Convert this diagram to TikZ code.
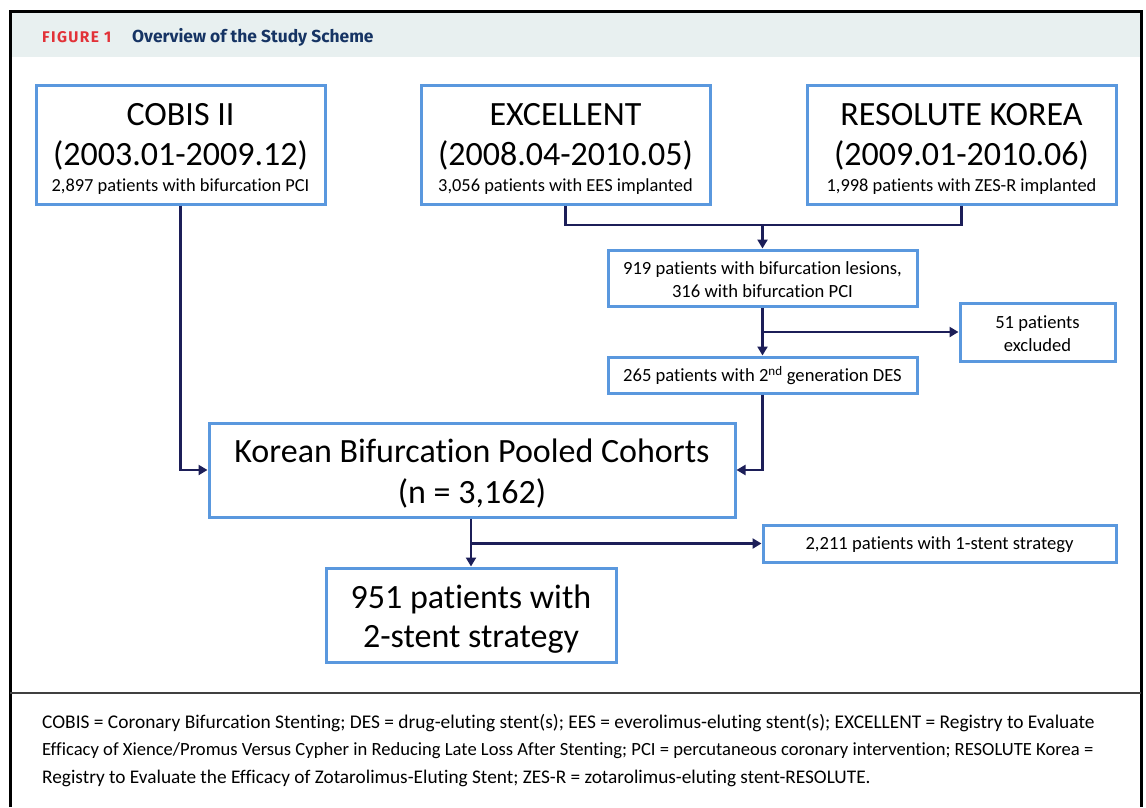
\documentclass[tikz,border=0pt]{standalone}
\usepackage{fontspec}
\setmainfont{Carlito}[Ligatures=NoCommon]
\newfontfamily\headfont{Fira Sans}
\newfontfamily\headfontsp{Fira Sans}[LetterSpace=9]
\usetikzlibrary{arrows.meta}
\definecolor{boxblue}{RGB}{90,152,222}
\definecolor{arrnavy}{RGB}{28,30,88}
\definecolor{headbg}{RGB}{232,240,240}
\definecolor{figred}{RGB}{226,50,56}
\definecolor{titlenavy}{RGB}{22,52,100}
\begin{document}
\begin{tikzpicture}[x=1pt,y=-1pt,
  box/.style={draw=boxblue, line width=3pt, inner sep=0pt, fill=white},
  bigtxt/.style={anchor=base, inner sep=0pt, font=\fontsize{34}{40}\selectfont},
  midtxt/.style={anchor=base, inner sep=0pt, font=\fontsize{18.6}{22}\selectfont},
  smalltxt/.style={anchor=base, inner sep=0pt, font=\fontsize{18.4}{22}\selectfont},
  captxt/.style={anchor=base west, inner sep=0pt},
  conn/.style={draw=arrnavy, line width=2.6pt},
  arr/.style={conn, -{Triangle[length=9pt,width=10pt]}}
]
\useasboundingbox (0,0) rectangle (1146,807);
\fill[white] (0,0) rectangle (1146,807);
\fill[headbg] (10,11) rectangle (1141,57);
\draw[line width=3pt] (10,807) -- (10,11) -- (1141,11) -- (1141,807);
\draw[line width=2pt, black!75] (10,693) -- (1141,693);

% header
\node[anchor=base west, inner sep=0pt, text=figred, font=\headfontsp\bfseries\fontsize{15.5}{18}\selectfont] (figlab) at (42,42.5) {FIGURE 1};
\node[anchor=base west, inner sep=0pt, text=titlenavy, font=\headfont\bfseries\fontsize{17.4}{20}\selectfont] (title) at (132,42.5) {Overview of the Study Scheme};

% boxes
\node[box, minimum width=289pt, minimum height=119pt] (cobis) at (180.5,144.5) {};
\node[box, minimum width=289pt, minimum height=119pt] (excellent) at (565.5,144.5) {};
\node[box, minimum width=309pt, minimum height=119pt] (resolute) at (961.5,144.5) {};
\node[box, minimum width=309pt, minimum height=56pt] (n919) at (762.5,278) {};
\node[box, minimum width=155pt, minimum height=58pt] (n51) at (1037.5,332) {};
\node[box, minimum width=309pt, minimum height=36pt] (n265) at (762.5,375) {};
\node[box, minimum width=526pt, minimum height=94pt] (korean) at (472,470) {};
\node[box, minimum width=353pt, minimum height=37pt] (n2211) at (939.5,543.5) {};
\node[box, minimum width=290pt, minimum height=94pt] (n951) at (471,615) {};

% box texts
\node[bigtxt] (cobisA) at (180.5,125) {COBIS II};
\node[bigtxt] (cobisB) at (180.5,165) {(2003.01-2009.12)};
\node[smalltxt] (cobisC) at (180.5,191.5) {2,897 patients with bifurcation PCI};
\node[bigtxt] (excA) at (565.5,125) {EXCELLENT};
\node[bigtxt] (excB) at (565.5,165) {(2008.04-2010.05)};
\node[smalltxt] (excC) at (565.5,191.5) {3,056 patients with EES implanted};
\node[bigtxt] (resA) at (961.5,125) {RESOLUTE KOREA};
\node[bigtxt] (resB) at (961.5,165) {(2009.01-2010.06)};
\node[smalltxt] (resC) at (961.5,191.5) {1,998 patients with ZES-R implanted};
\node[midtxt] (t919a) at (762.5,274) {919 patients with bifurcation lesions,};
\node[midtxt] (t919b) at (762.5,297) {316 with bifurcation PCI};
\node[midtxt] (t51a) at (1037.5,328.5) {51 patients};
\node[midtxt] (t51b) at (1037.5,351) {excluded};
\node[midtxt] (t265) at (762.5,381.5) {265 patients with 2\textsuperscript{nd} generation DES};
\node[bigtxt] (korA) at (472,462) {Korean Bifurcation Pooled Cohorts};
\node[bigtxt] (korB) at (472,503) {(n = 3,162)};
\node[midtxt] (t2211) at (939.5,549.5) {2,211 patients with 1-stent strategy};
\node[bigtxt] (t951a) at (471,608) {951 patients with};
\node[bigtxt] (t951b) at (471,647) {2-stent strategy};

% connectors
\coordinate (j1) at (762.5,225);
\draw[conn] (excellent.south) -- (excellent.south |- j1) -- (resolute.south |- j1) -- (resolute.south);
\draw[arr] (j1) -- (n919.north);
\draw[arr] (n919.south) -- (n265.north);
\draw[arr] (n919.south |- n51.west) -- (n51.west);
\draw[arr] (cobis.south) |- (korean.west);
\draw[arr] (n265.south) |- (korean.east);
\draw[arr] (n951.north |- korean.south) -- (n951.north);
\draw[arr] (n951.north |- n2211.west) -- (n2211.west);

% caption
\node[captxt, font=\fontsize{19.4}{22}\selectfont] (cap1) at (42,728) {COBIS = Coronary Bifurcation Stenting; DES = drug-eluting stent(s); EES = everolimus-eluting stent(s); EXCELLENT = Registry to Evaluate};
\node[captxt, font=\fontsize{18.6}{22}\selectfont] (cap2) at (42,755) {Efficacy of Xience/Promus Versus Cypher in Reducing Late Loss After Stenting; PCI = percutaneous coronary intervention; RESOLUTE Korea =};
\node[captxt, font=\fontsize{19.3}{22}\selectfont] (cap3) at (42,783) {Registry to Evaluate the Efficacy of Zotarolimus-Eluting Stent; ZES-R = zotarolimus-eluting stent-RESOLUTE.};
\end{tikzpicture}
\end{document}
